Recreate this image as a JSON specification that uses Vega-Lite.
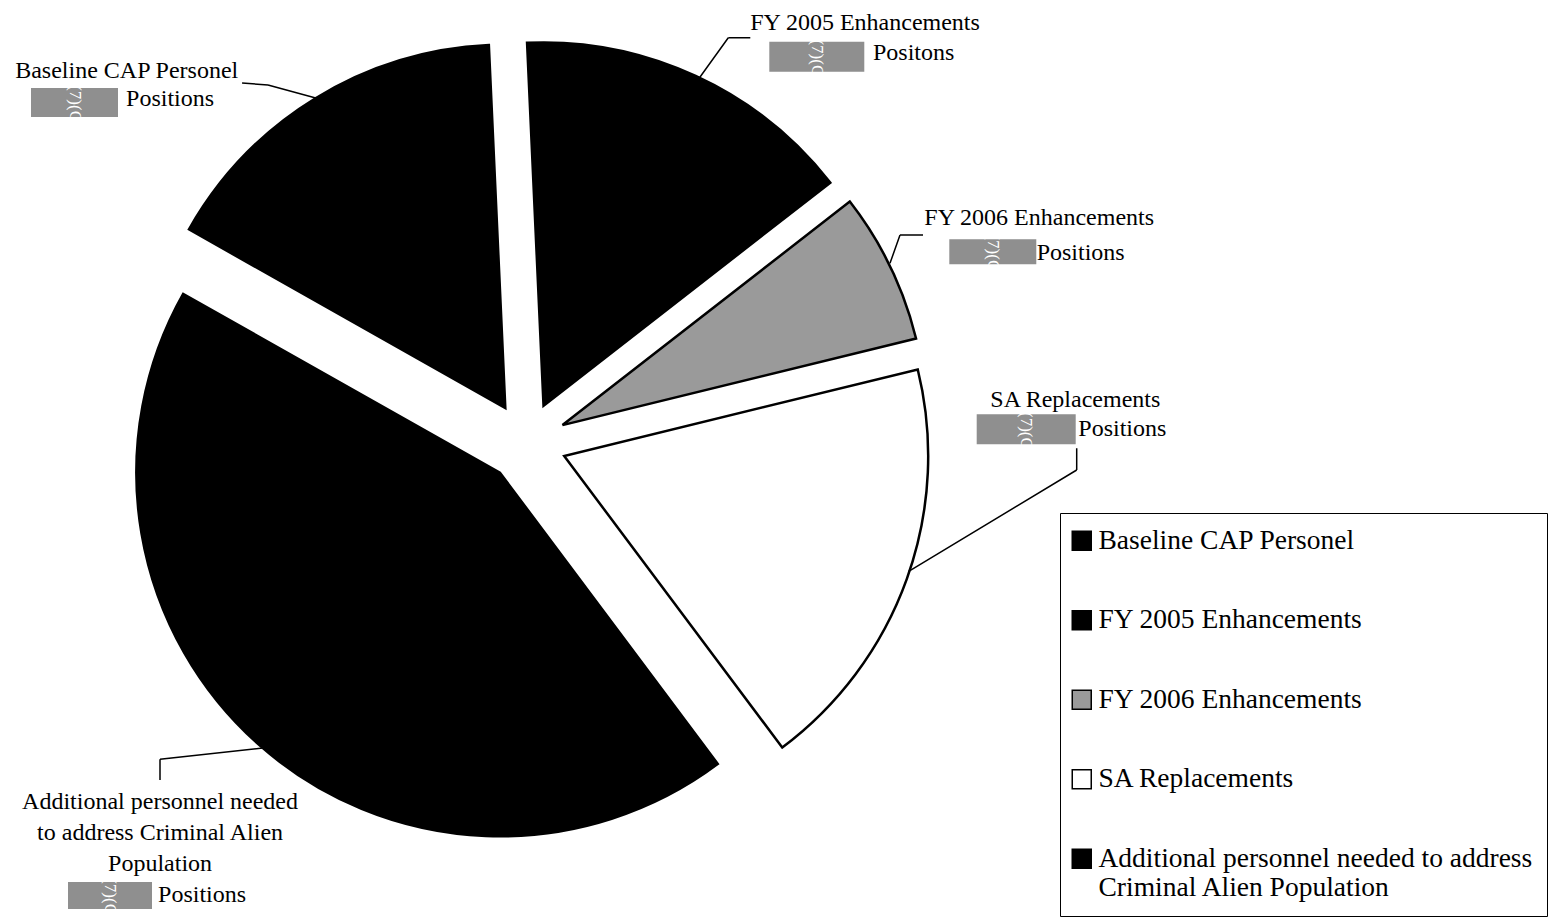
{
  "$schema": "https://vega.github.io/schema/vega-lite/v6.json",
  "width": 1053,
  "height": 885,
  "padding": 0,
  "autosize": {"type": "pad"},
  "background": "white",
  "config": {"view": {"stroke": null}},
  "data": {
    "values": [
      {"category": "Baseline CAP Personel", "value": 16.1},
      {"category": "FY 2005 Enhancements", "value": 15.2},
      {"category": "FY 2006 Enhancements", "value": 6.7},
      {"category": "SA Replacements", "value": 18.6},
      {"category": "Additional personnel needed to address Criminal Alien Population", "value": 43.4}
    ]
  },
  "transform": [
    {"stack": "value", "groupby": [], "sort": [{"field": "category", "order": "ascending"}], "as": ["v0", "v1"]},
    {"calculate": "(datum.v0 + datum.v1) / 2", "as": "mid"}
  ],
  "layer": [
    {
      "transform": [{"filter": "datum.category == 'Baseline CAP Personel'"}],
      "layer": [
        {
          "mark": {"type": "arc", "radius": 364, "xOffset": -20.9, "yOffset": -34.1, "stroke": "black", "strokeWidth": 2},
          "encoding": {
            "theta": {"field": "v0", "type": "quantitative", "stack": null, "scale": {"domain": [0, 100], "range": [2.49932, 8.78251]}},
            "theta2": {"field": "v1"},
            "color": {
              "field": "category", "type": "nominal",
              "scale": {
                "domain": ["Baseline CAP Personel", "FY 2005 Enhancements", "FY 2006 Enhancements", "SA Replacements", "Additional personnel needed to address Criminal Alien Population"],
                "range": ["#000000", "#000000", "#9a9a9a", "#ffffff", "#000000"]
              },
              "legend": {
                "title": null, "orient": "none", "legendX": 1060, "legendY": 513,
                "strokeColor": "black", "padding": 14, "rowPadding": 50.5,
                "symbolType": "square", "symbolSize": 361, "symbolStrokeColor": "black", "symbolStrokeWidth": 1.5, "symbolOffset": -6,
                "labelFont": "Liberation Serif", "labelFontSize": 27.5, "labelColor": "black", "labelLimit": 1000, "labelOffset": 3,
                "labelExpr": "datum.label == 'Additional personnel needed to address Criminal Alien Population' ? ['Additional personnel needed to address', 'Criminal Alien Population'] : datum.label"
              }
            }
          }
        },
        {
          "mark": {"type": "arc", "xOffset": -258.5, "yOffset": -357.5, "stroke": "black", "strokeWidth": 1.5, "fillOpacity": 0},
          "encoding": {"theta": {"value": 1.8361}, "theta2": {"value": 1.8361}, "radius": {"value": 58}}
        },
        {
          "mark": {"type": "arc", "xOffset": -258.5, "yOffset": -357.5, "stroke": "black", "strokeWidth": 1.5, "fillOpacity": 0},
          "encoding": {"theta": {"value": 4.7892}, "theta2": {"value": 4.7892}, "radius": {"value": 26}}
        },
        {
          "mark": {"type": "arc", "xOffset": -495.5, "yOffset": -340, "stroke": "#8f8f8f", "strokeWidth": 29, "strokeJoin": "bevel", "fillOpacity": 0},
          "encoding": {"theta": {"value": 1.5708}, "theta2": {"value": 1.5708}, "radius": {"value": 87}}
        },
        {
          "mark": {"type": "text", "radius": 404, "angle": 90, "dx": -1.8, "dy": 240.4, "align": "center", "baseline": "middle", "fontSize": 17, "font": "Liberation Serif", "fill": "white"},
          "encoding": {"theta": {"field": "mid", "type": "quantitative", "stack": null}, "text": {"value": "(b)(7)(C)"}}
        },
        {
          "mark": {"type": "text", "radius": 404, "dx": -188.2, "dy": -27, "align": "center", "baseline": "middle", "fontSize": 24, "font": "Liberation Serif", "fill": "black"},
          "encoding": {"theta": {"field": "mid", "type": "quantitative", "stack": null}, "text": {"field": "category"}}
        },
        {
          "mark": {"type": "text", "radius": 404, "dx": -188.9, "dy": 0.2, "align": "left", "baseline": "middle", "fontSize": 24, "font": "Liberation Serif", "fill": "black"},
          "encoding": {"theta": {"field": "mid", "type": "quantitative", "stack": null}, "text": {"value": "Positions"}}
        }
      ]
    },
    {
      "transform": [{"filter": "datum.category == 'FY 2005 Enhancements'"}],
      "layer": [
        {
          "mark": {"type": "arc", "radius": 364, "xOffset": 16.8, "yOffset": -36.3, "stroke": "black", "strokeWidth": 2},
          "encoding": {
            "theta": {"field": "v0", "type": "quantitative", "stack": null},
            "theta2": {"field": "v1"},
            "color": {"field": "category", "type": "nominal"}
          }
        },
        {
          "mark": {"type": "arc", "xOffset": 201.8, "yOffset": -404.8, "stroke": "black", "strokeWidth": 1.5, "fillOpacity": 0},
          "encoding": {"theta": {"value": 3.7647}, "theta2": {"value": 3.7647}, "radius": {"value": 62}}
        },
        {
          "mark": {"type": "arc", "xOffset": 201.8, "yOffset": -404.8, "stroke": "black", "strokeWidth": 1.5, "fillOpacity": 0},
          "encoding": {"theta": {"value": 1.5708}, "theta2": {"value": 1.5708}, "radius": {"value": 22}}
        },
        {
          "mark": {"type": "arc", "xOffset": 242.8, "yOffset": -385.8, "stroke": "#8f8f8f", "strokeWidth": 30, "strokeJoin": "bevel", "fillOpacity": 0},
          "encoding": {"theta": {"value": 1.5708}, "theta2": {"value": 1.5708}, "radius": {"value": 95}}
        },
        {
          "mark": {"type": "text", "radius": 404, "angle": 90, "dx": -24.9, "dy": -121.1, "align": "center", "baseline": "middle", "fontSize": 17, "font": "Liberation Serif", "fill": "white"},
          "encoding": {"theta": {"field": "mid", "type": "quantitative", "stack": null}, "text": {"value": "(b)(7)(C)"}}
        },
        {
          "mark": {"type": "text", "radius": 404, "dx": 169.3, "dy": -52.3, "align": "center", "baseline": "middle", "fontSize": 24, "font": "Liberation Serif", "fill": "black"},
          "encoding": {"theta": {"field": "mid", "type": "quantitative", "stack": null}, "text": {"field": "category"}}
        },
        {
          "mark": {"type": "text", "radius": 404, "dx": 177.3, "dy": -22.3, "align": "left", "baseline": "middle", "fontSize": 24, "font": "Liberation Serif", "fill": "black"},
          "encoding": {"theta": {"field": "mid", "type": "quantitative", "stack": null}, "text": {"value": "Positons"}}
        }
      ]
    },
    {
      "transform": [{"filter": "datum.category == 'FY 2006 Enhancements'"}],
      "layer": [
        {
          "mark": {"type": "arc", "radius": 364, "xOffset": 36.0, "yOffset": -17.4, "stroke": "black", "strokeWidth": 2.5},
          "encoding": {
            "theta": {"field": "v0", "type": "quantitative", "stack": null},
            "theta2": {"field": "v1"},
            "color": {"field": "category", "type": "nominal"}
          }
        },
        {
          "mark": {"type": "arc", "xOffset": 373.5, "yOffset": -207.5, "stroke": "black", "strokeWidth": 1.5, "fillOpacity": 0},
          "encoding": {"theta": {"value": 3.4819}, "theta2": {"value": 3.4819}, "radius": {"value": 30}}
        },
        {
          "mark": {"type": "arc", "xOffset": 373.5, "yOffset": -207.5, "stroke": "black", "strokeWidth": 1.5, "fillOpacity": 0},
          "encoding": {"theta": {"value": 1.5708}, "theta2": {"value": 1.5708}, "radius": {"value": 23}}
        },
        {
          "mark": {"type": "arc", "xOffset": 422.8, "yOffset": -190.8, "stroke": "#8f8f8f", "strokeWidth": 25, "strokeJoin": "bevel", "fillOpacity": 0},
          "encoding": {"theta": {"value": 1.5708}, "theta2": {"value": 1.5708}, "radius": {"value": 87}}
        },
        {
          "mark": {"type": "text", "radius": 404, "angle": 90, "dx": -20.8, "dy": -102.5, "align": "center", "baseline": "middle", "fontSize": 17, "font": "Liberation Serif", "fill": "white"},
          "encoding": {"theta": {"field": "mid", "type": "quantitative", "stack": null}, "text": {"value": "(b)(7)(C)"}}
        },
        {
          "mark": {"type": "text", "radius": 404, "dx": 149, "dy": -48.2, "align": "center", "baseline": "middle", "fontSize": 24, "font": "Liberation Serif", "fill": "black"},
          "encoding": {"theta": {"field": "mid", "type": "quantitative", "stack": null}, "text": {"field": "category"}}
        },
        {
          "mark": {"type": "text", "radius": 404, "dx": 146.5, "dy": -14, "align": "left", "baseline": "middle", "fontSize": 24, "font": "Liberation Serif", "fill": "black"},
          "encoding": {"theta": {"field": "mid", "type": "quantitative", "stack": null}, "text": {"value": "Positions"}}
        }
      ]
    },
    {
      "transform": [{"filter": "datum.category == 'SA Replacements'"}],
      "layer": [
        {
          "mark": {"type": "arc", "radius": 364, "xOffset": 37.7, "yOffset": 13.5, "stroke": "black", "strokeWidth": 2.5},
          "encoding": {
            "theta": {"field": "v0", "type": "quantitative", "stack": null},
            "theta2": {"field": "v1"},
            "color": {"field": "category", "type": "nominal"}
          }
        },
        {
          "mark": {"type": "arc", "xOffset": 550.2, "yOffset": 27.5, "stroke": "black", "strokeWidth": 1.5, "fillOpacity": 0},
          "encoding": {"theta": {"value": 4.1696}, "theta2": {"value": 4.1696}, "radius": {"value": 196.7}}
        },
        {
          "mark": {"type": "arc", "xOffset": 550.2, "yOffset": 27.5, "stroke": "black", "strokeWidth": 1.5, "fillOpacity": 0},
          "encoding": {"theta": {"value": 0}, "theta2": {"value": 0}, "radius": {"value": 21.7}}
        },
        {
          "mark": {"type": "arc", "xOffset": 450.2, "yOffset": -13.2, "stroke": "#8f8f8f", "strokeWidth": 30, "strokeJoin": "bevel", "fillOpacity": 0},
          "encoding": {"theta": {"value": 1.5708}, "theta2": {"value": 1.5708}, "radius": {"value": 99}}
        },
        {
          "mark": {"type": "text", "radius": 404, "angle": 90, "dx": -155.5, "dy": -119.4, "align": "center", "baseline": "middle", "fontSize": 17, "font": "Liberation Serif", "fill": "white"},
          "encoding": {"theta": {"field": "mid", "type": "quantitative", "stack": null}, "text": {"value": "(b)(7)(C)"}}
        },
        {
          "mark": {"type": "text", "radius": 404, "dx": 168.5, "dy": -178.8, "align": "center", "baseline": "middle", "fontSize": 24, "font": "Liberation Serif", "fill": "black"},
          "encoding": {"theta": {"field": "mid", "type": "quantitative", "stack": null}, "text": {"field": "category"}}
        },
        {
          "mark": {"type": "text", "radius": 404, "dx": 171.5, "dy": -149.6, "align": "left", "baseline": "middle", "fontSize": 24, "font": "Liberation Serif", "fill": "black"},
          "encoding": {"theta": {"field": "mid", "type": "quantitative", "stack": null}, "text": {"value": "Positions"}}
        }
      ]
    },
    {
      "transform": [{"filter": "datum.category == 'Additional personnel needed to address Criminal Alien Population'"}],
      "layer": [
        {
          "mark": {"type": "arc", "radius": 364, "xOffset": -26.4, "yOffset": 30.0, "stroke": "black", "strokeWidth": 2},
          "encoding": {
            "theta": {"field": "v0", "type": "quantitative", "stack": null},
            "theta2": {"field": "v1"},
            "color": {"field": "category", "type": "nominal"}
          }
        },
        {
          "mark": {"type": "arc", "xOffset": -366.5, "yOffset": 316.8, "stroke": "black", "strokeWidth": 1.5, "fillOpacity": 0},
          "encoding": {"theta": {"value": 1.4608}, "theta2": {"value": 1.4608}, "radius": {"value": 108}}
        },
        {
          "mark": {"type": "arc", "xOffset": -366.5, "yOffset": 316.8, "stroke": "black", "strokeWidth": 1.5, "fillOpacity": 0},
          "encoding": {"theta": {"value": 3.1416}, "theta2": {"value": 3.1416}, "radius": {"value": 20.7}}
        },
        {
          "mark": {"type": "arc", "xOffset": -458.5, "yOffset": 453, "stroke": "#8f8f8f", "strokeWidth": 27, "strokeJoin": "bevel", "fillOpacity": 0},
          "encoding": {"theta": {"value": 1.5708}, "theta2": {"value": 1.5708}, "radius": {"value": 84}}
        },
        {
          "mark": {"type": "text", "radius": 404, "angle": 90, "dx": 143.6, "dy": 149.7, "align": "center", "baseline": "middle", "fontSize": 17, "font": "Liberation Serif", "fill": "white"},
          "encoding": {"theta": {"field": "mid", "type": "quantitative", "stack": null}, "text": {"value": "(b)(7)(C)"}}
        },
        {
          "mark": {"type": "text", "radius": 404, "dx": -99.7, "dy": 56.1, "align": "center", "baseline": "middle", "fontSize": 24, "lineHeight": 31, "font": "Liberation Serif", "fill": "black"},
          "encoding": {"theta": {"field": "mid", "type": "quantitative", "stack": null}, "text": {"value": ["Additional personnel needed", "to address Criminal Alien", "Population"]}}
        },
        {
          "mark": {"type": "text", "radius": 404, "dx": -101.7, "dy": 149.1, "align": "left", "baseline": "middle", "fontSize": 24, "font": "Liberation Serif", "fill": "black"},
          "encoding": {"theta": {"field": "mid", "type": "quantitative", "stack": null}, "text": {"value": "Positions"}}
        }
      ]
    }
  ]
}
